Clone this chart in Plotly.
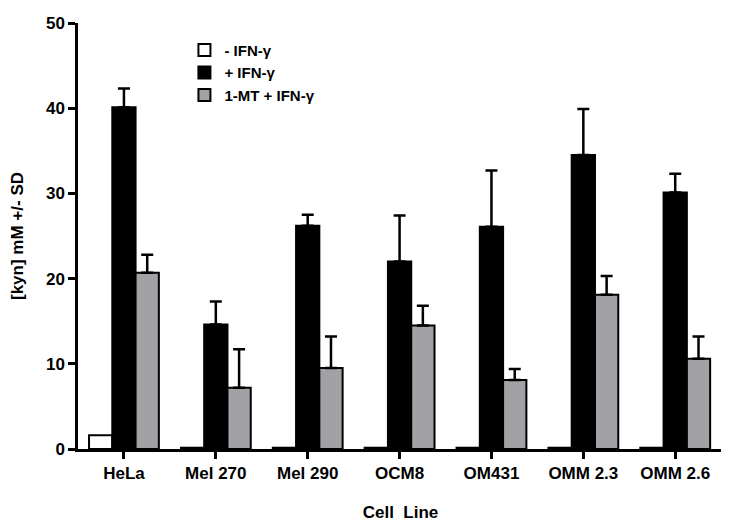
import plotly.graph_objects as go

categories = ["HeLa", "Mel 270", "Mel 290", "OCM8", "OM431", "OMM 2.3", "OMM 2.6"]
minus_ifn = [1.6, 0.15, 0.15, 0.15, 0.15, 0.15, 0.15]
plus_ifn = [40.1, 14.6, 26.2, 22.0, 26.1, 34.5, 30.1]
plus_ifn_sd = [2.2, 2.7, 1.3, 5.4, 6.6, 5.4, 2.2]
mt_ifn = [20.7, 7.2, 9.5, 14.5, 8.1, 18.1, 10.6]
mt_ifn_sd = [2.1, 4.5, 3.7, 2.3, 1.3, 2.2, 2.6]
zeros = [0] * len(categories)

FONT = "Liberation Sans, Arial, Helvetica, sans-serif"
line = dict(color="black", width=2)

fig = go.Figure()
fig.add_trace(go.Bar(x=categories, y=minus_ifn, name="- IFN-γ",
                     marker=dict(color="white", line=line)))
fig.add_trace(go.Bar(x=categories, y=plus_ifn, name="+ IFN-γ",
                     marker=dict(color="black", line=line),
                     error_y=dict(type="data", array=plus_ifn_sd, arrayminus=zeros,
                                  symmetric=False, color="black", thickness=2.5, width=6)))
fig.add_trace(go.Bar(x=categories, y=mt_ifn, name="1-MT + IFN-γ",
                     marker=dict(color="#a2a2a6", line=line),
                     error_y=dict(type="data", array=mt_ifn_sd, arrayminus=zeros,
                                  symmetric=False, color="black", thickness=2.5, width=6)))

fig.update_layout(
    width=721, height=522,
    margin=dict(l=68, r=6, t=10, b=81),
    paper_bgcolor="white", plot_bgcolor="white",
    barmode="group", bargap=0.24, bargroupgap=0,
    font=dict(family=FONT, size=15, color="black", weight="bold"),
    showlegend=True,
    legend=dict(x=0.165, y=0.975, xanchor="left", yanchor="top",
                font=dict(family=FONT, size=15, color="black", weight="bold"),
                bgcolor="rgba(0,0,0,0)", tracegroupgap=0, itemwidth=30),
)
fig.update_xaxes(
    range=[-0.5, 6.52], showline=True, linecolor="black", linewidth=2.5,
    ticks="outside", ticklen=7, tickwidth=2.5, tickcolor="black",
    tickfont=dict(family=FONT, size=17, color="black", weight="bold"),
    title=dict(text="Cell  Line", font=dict(family=FONT, size=17, color="black", weight="bold"),
               standoff=24),
    showgrid=False, zeroline=False,
)
fig.update_yaxes(
    range=[0, 50], dtick=10, showline=True, linecolor="black", linewidth=2.5,
    ticks="outside", ticklen=7, tickwidth=2.5, tickcolor="black",
    tickfont=dict(family=FONT, size=17, color="black", weight="bold"),
    title=dict(text="[kyn] mM +/- SD", font=dict(family=FONT, size=17, color="black", weight="bold"),
               standoff=20),
    showgrid=False, zeroline=False,
)

fig.write_html("out.html")
